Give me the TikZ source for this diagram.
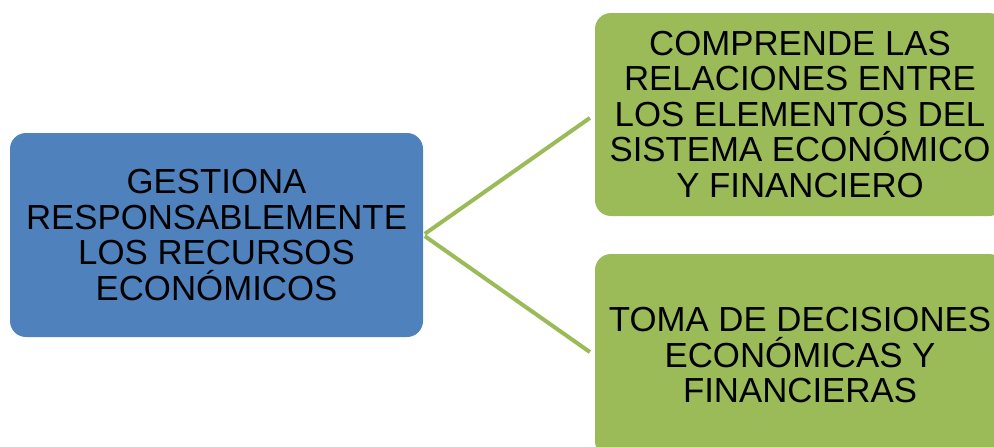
\documentclass[tikz,border=0pt]{standalone}
\usepackage{fontspec}
\setmainfont{Liberation Sans}
\begin{document}
\begin{tikzpicture}[x=1pt,y=-1pt,
  boxtxt/.style={font=\fontsize{34.8}{35.5}\selectfont, align=center, text=black, inner sep=0pt, rounded corners=16pt},
  bluebox/.style={boxtxt, fill=blueF, minimum width=413pt, minimum height=204pt},
  greenbox/.style={boxtxt, fill=greenF, minimum width=410pt, minimum height=203pt},
  conn/.style={draw=greenF, line width=4pt, shorten <=2pt, shorten >=6pt}]
\definecolor{blueF}{HTML}{4F81BD}
\definecolor{greenF}{HTML}{9BBB59}
\useasboundingbox (0,0) rectangle (994,447);
\begin{scope}
\clip (0,0) rectangle (994,447);
\node[bluebox] (b) at (216.5,235) {GESTIONA\\RESPONSABLEMENTE\\LOS RECURSOS\\ECONÓMICOS};
\node[greenbox] (g1) at (800,114.5) {COMPRENDE LAS\\RELACIONES ENTRE\\LOS ELEMENTOS DEL\\SISTEMA ECONÓMICO\\Y FINANCIERO};
\node[greenbox] (g2) at (800,355.5) {TOMA DE DECISIONES\\ECONÓMICAS Y\\FINANCIERAS};
\draw[conn] (b.east) -- (g1.west);
\draw[conn] (b.east) -- (g2.west);
\end{scope}
\end{tikzpicture}
\end{document}
